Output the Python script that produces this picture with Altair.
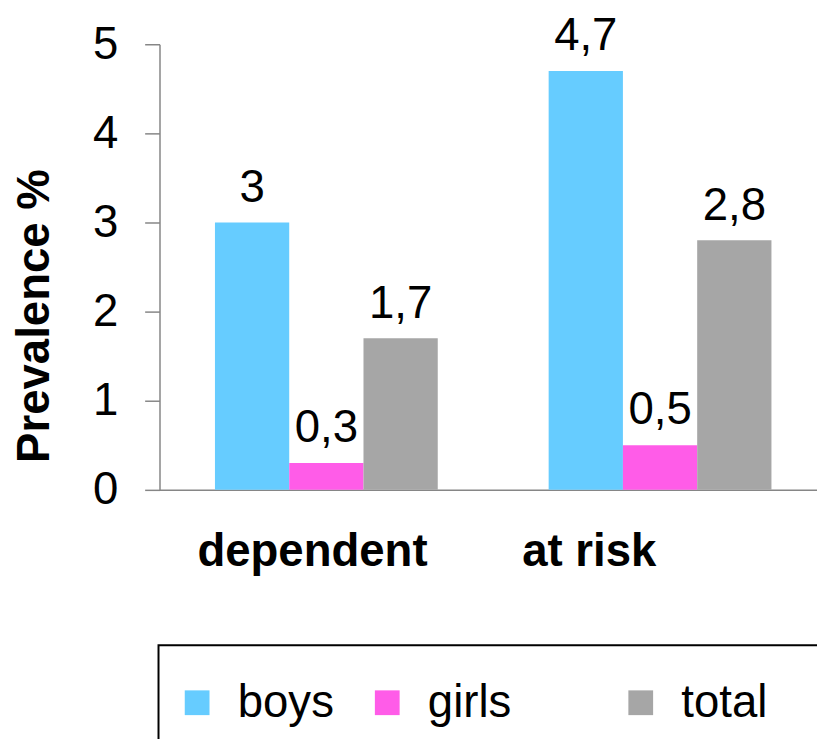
import altair as alt
import pandas as pd

categories = ["dependent", "at risk"]
groups = ["boys", "girls", "total"]
boys = [3.0, 4.7]
girls = [0.3, 0.5]
total = [1.7, 2.8]
colors = ["#66CCFF", "#FF5CE8", "#A6A6A6"]
y_ticks = [0, 1, 2, 3, 4, 5]

rows = []
for i, c in enumerate(categories):
    for g, vals in zip(groups, [boys, girls, total]):
        v = vals[i]
        rows.append({"cat": c, "grp": g, "val": v,
                     "lbl": f"{v:g}".replace(".", ",")})
df = pd.DataFrame(rows)

FONT = "Liberation Sans"
NB = "\u00a0"
ZW = "\u200b"
GREY = "#868686"


def pad(n):
    return NB * n + ZW


x_enc = alt.X("cat:N", sort=categories,
              scale=alt.Scale(domain=categories, range=[0, 674],
                              paddingInner=0, paddingOuter=0),
              axis=alt.Axis(title=None, labelAngle=0, labelFont=FONT,
                            labelFontSize=46, labelFontWeight="bold",
                            labelColor="black", labelPadding=40,
                            ticks=False, tickSize=0, labelOffset=-14,
                            labelLimit=0, domainColor=GREY, domainWidth=1.5,
                            labelExpr="datum.label == 'at risk' ? 'at risk" + pad(9) + "' : datum.label"))
xoff = alt.XOffset("grp:N", sort=groups,
                   scale=alt.Scale(domain=groups, paddingInner=0,
                                   paddingOuter=0.7467))
y_enc = alt.Y("val:Q",
              scale=alt.Scale(domain=[0, 5], nice=False),
              axis=alt.Axis(title="Prevalence %", values=y_ticks, grid=False,
                            format="d",
                            labelFont=FONT, labelFontSize=46, labelColor="black",
                            labelPadding=27, tickSize=15, tickColor=GREY,
                            tickWidth=1.5, domainColor=GREY, domainWidth=1.5,
                            titleFont=FONT, titleFontSize=46,
                            titleFontWeight="bold", titleColor="black",
                            titleAngle=270, titleX=-112, titleY=274,
                            titleBaseline="alphabetic", titleAlign="center"))

bars = alt.Chart(df).mark_bar().encode(
    x=x_enc, xOffset=xoff, y=y_enc,
    color=alt.Color("grp:N", sort=groups,
                    scale=alt.Scale(domain=groups, range=colors),
                    legend=alt.Legend(
                        orient="none", legendX=-1, legendY=607,
                        direction="horizontal", title=ZW,
                        titleFontSize=2, titlePadding=17,
                        symbolType="square", symbolSize=625,
                        symbolStrokeWidth=0, symbolOpacity=1,
                        labelFont=FONT, labelFontSize=46, labelColor="black",
                        labelOffset=18, columnPadding=30, padding=16,
                        strokeColor="black", labelLimit=0,
                        labelExpr="datum.label == 'girls' ? 'girls" + pad(6) + "' : (datum.label == 'total' ? 'total" + pad(4) + "' : datum.label)",
                    )),
)

labels = alt.Chart(df).mark_text(
    font=FONT, fontSize=46, color="black", baseline="alphabetic",
    align="center", dy=-21,
).encode(x=alt.X("cat:N", sort=categories), xOffset=alt.XOffset("grp:N", sort=groups),
         y="val:Q", text="lbl:N")

chart = alt.layer(bars, labels).properties(
    width=664, height=450,
    autosize=alt.AutoSizeParams(type="none"),
    padding={"left": 153, "top": 33, "right": 0, "bottom": 248},
).configure_view(stroke=None).configure_legend(strokeWidth=2)

chart.save("out.html", embed_options={"renderer": "svg", "actions": False})
